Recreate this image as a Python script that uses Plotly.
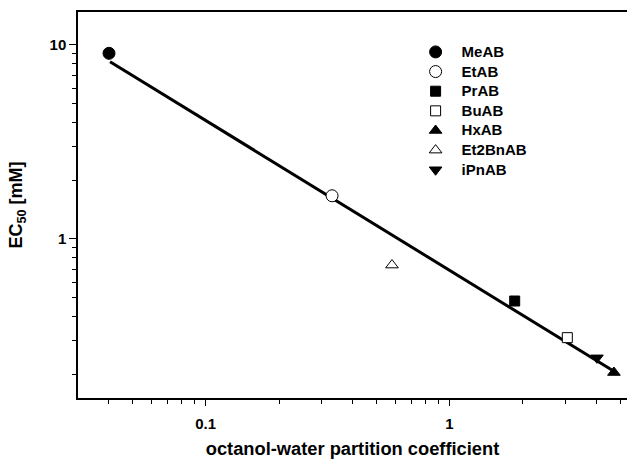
import plotly.graph_objects as go

# Data
compounds = ["MeAB", "EtAB", "PrAB", "BuAB", "HxAB", "Et2BnAB", "iPnAB"]
kow = [0.0402, 0.330, 1.85, 3.04, 4.72, 0.581, 4.02]
ec50 = [9.06, 1.67, 0.479, 0.310, 0.205, 0.734, 0.244]
symbols = ["circle", "circle", "square", "square", "triangle-up", "triangle-up", "triangle-down"]
fills = ["black", "white", "black", "white", "black", "white", "black"]
sizes = [12, 12, 10, 10, 11, 11, 11]

# Regression line end points
fit_x = [0.0406, 4.63]
fit_y = [8.2, 0.211]

x_major = [0.1, 1]
x_major_text = ["0.1", "1"]
x_minor = [0.04, 0.05, 0.06, 0.07, 0.08, 0.09, 0.2, 0.3, 0.4, 0.5, 0.6, 0.7, 0.8, 0.9, 2, 3, 4, 5]
y_major = [1, 10]
y_major_text = ["1", "10"]
y_minor = [0.2, 0.3, 0.4, 0.5, 0.6, 0.7, 0.8, 0.9, 2, 3, 4, 5, 6, 7, 8, 9]

FONT = "Liberation Sans, Arial, sans-serif"

fig = go.Figure()
fig.add_trace(go.Scatter(x=fit_x, y=fit_y, mode="lines",
                         line=dict(color="black", width=3), showlegend=False,
                         hoverinfo="skip"))
for name, xv, yv, sym, fc, sz in zip(compounds, kow, ec50, symbols, fills, sizes):
    fig.add_trace(go.Scatter(
        x=[xv], y=[yv], mode="markers",
        name='<span style="font-size:15px"><b>' + name + "</b></span>",
        marker=dict(symbol=sym, size=sz, color=fc, line=dict(color="black", width=1))))

fig.update_layout(
    width=627, height=463,
    margin=dict(l=78, r=0, t=12, b=65),
    paper_bgcolor="white", plot_bgcolor="white",
    font=dict(family=FONT, color="black"),
    legend=dict(x=0.604, y=0.935, xanchor="left", yanchor="top",
                font=dict(size=12.8, family=FONT, color="black"),
                bgcolor="rgba(0,0,0,0)", tracegroupgap=0, itemsizing="trace",
                itemwidth=42),
)
fig.update_xaxes(
    type="log", range=[-1.5229, 0.7275],
    showline=True, linecolor="black", linewidth=1.5, mirror=True,
    showgrid=False, zeroline=False,
    ticks="outside", ticklen=6, tickwidth=1.2, tickcolor="black",
    tickmode="array", tickvals=x_major, ticktext=x_major_text,
    tickfont=dict(size=15, family=FONT, weight="bold"),
    ticklabelstandoff=5,
    minor=dict(tickmode="array", tickvals=x_minor, ticks="outside", ticklen=4,
               tickwidth=1.2, tickcolor="black", showgrid=False),
    title=dict(text="<b>octanol-water partition coefficient</b>",
               font=dict(size=18.3, family=FONT), standoff=11),
)
fig.update_yaxes(
    type="log", range=[-0.8196, 1.170],
    showline=True, linecolor="black", linewidth=1.5, mirror=False,
    showgrid=False, zeroline=False,
    ticks="outside", ticklen=7, tickwidth=1.2, tickcolor="black",
    tickmode="array", tickvals=y_major, ticktext=y_major_text,
    tickfont=dict(size=15, family=FONT, weight="bold"),
    minor=dict(tickmode="array", tickvals=y_minor, ticks="outside", ticklen=4,
               tickwidth=1.2, tickcolor="black", showgrid=False),
    title=dict(text="<b>EC<sub>50</sub> [mM]</b>",
               font=dict(size=18, family=FONT), standoff=22),
)

fig.write_html("out.html", config={"displayModeBar": False},
               post_script="document.body.style.margin='0px';document.body.style.padding='0px';")
